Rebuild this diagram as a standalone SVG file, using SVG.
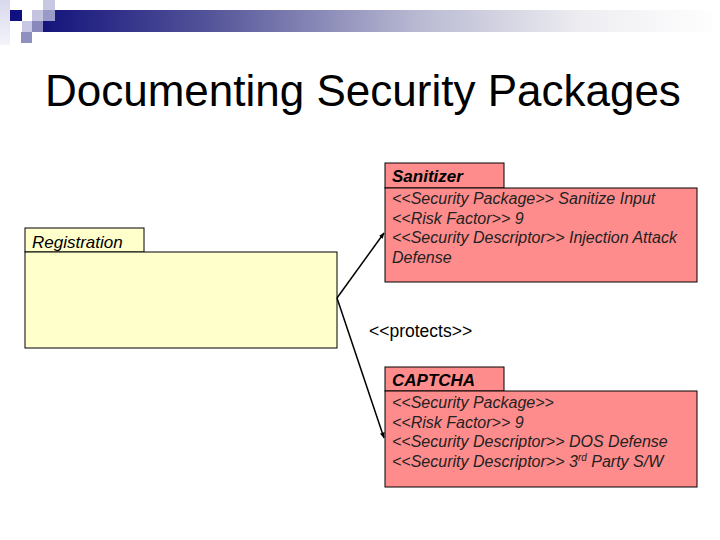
<svg xmlns="http://www.w3.org/2000/svg" width="720" height="540" viewBox="0 0 720 540">
  <defs>
    <linearGradient id="bar" x1="0" y1="0" x2="1" y2="0">
      <stop offset="0" stop-color="#14147c"/>
      <stop offset="0.25" stop-color="#55559a"/>
      <stop offset="0.55" stop-color="#b8b8d2"/>
      <stop offset="0.8" stop-color="#eeeef2"/>
      <stop offset="1" stop-color="#ffffff"/>
    </linearGradient>
    <linearGradient id="strip" x1="0" y1="0" x2="0" y2="1">
      <stop offset="0" stop-color="#d8d8ee"/>
      <stop offset="1" stop-color="#f4f4fa"/>
    </linearGradient>
    <marker id="arr" viewBox="0 0 10 10" refX="9" refY="5" markerWidth="6" markerHeight="6" orient="auto" markerUnits="userSpaceOnUse">
      <path d="M0,1 L10,5 L0,9 z" fill="#000"/>
    </marker>
    <style>
      .pkg { stroke:#000; stroke-width:1; }
      .yellow { fill:#ffffcc; }
      .pink { fill:#ff8c8c; }
      .lbl { font-family:"Liberation Sans", Arial, sans-serif; font-size:17px; font-style:italic; fill:#000; }
      .lblb { font-weight:bold; }
      .body { font-family:"Liberation Sans", Arial, sans-serif; font-size:16px; font-style:italic; fill:#222; }
      .conn { stroke:#000; stroke-width:1.5; fill:none; }
    </style>
  </defs>

  <g id="decor">
    <rect x="0" y="0" width="10" height="45" fill="url(#strip)"/>
    <rect x="43" y="10" width="677" height="22" fill="url(#bar)"/>
    <rect x="10" y="10" width="12" height="11" fill="#101080"/>
    <rect x="43" y="0" width="12" height="10" fill="#c8c8e2"/>
    <rect x="32" y="10" width="11" height="11" fill="#c4c4e0"/>
    <rect x="43" y="10" width="12" height="11" fill="#9a9ac8"/>
    <rect x="22" y="21" width="10" height="11" fill="#c8c8e4"/>
    <rect x="32" y="21" width="11" height="11" fill="#8888bc"/>
    <rect x="21" y="32" width="11" height="11" fill="#9090c0"/>
  </g>

  <text x="45" y="106" font-family="Liberation Sans, Arial, sans-serif" font-size="44" fill="#000">Documenting Security Packages</text>

  <g id="registration">
    <rect class="pkg yellow" x="25" y="228" width="119" height="24"/>
    <rect class="pkg yellow" x="25" y="252" width="312" height="96"/>
    <text class="lbl" x="32" y="248">Registration</text>
  </g>

  <g id="sanitizer">
    <rect class="pkg pink" x="385" y="163" width="119" height="25"/>
    <rect class="pkg pink" x="385" y="188" width="312" height="94"/>
    <text class="lbl lblb" x="392" y="182">Sanitizer</text>
    <text class="body" x="392" y="204">&lt;&lt;Security Package&gt;&gt; Sanitize Input</text>
    <text class="body" x="392" y="223.5">&lt;&lt;Risk Factor&gt;&gt; 9</text>
    <text class="body" x="392" y="243">&lt;&lt;Security Descriptor&gt;&gt; Injection Attack</text>
    <text class="body" x="392" y="262.5">Defense</text>
  </g>

  <g id="captcha">
    <rect class="pkg pink" x="385" y="367" width="119" height="24"/>
    <rect class="pkg pink" x="385" y="391" width="312" height="96"/>
    <text class="lbl lblb" x="392" y="386">CAPTCHA</text>
    <text class="body" x="392" y="408">&lt;&lt;Security Package&gt;&gt;</text>
    <text class="body" x="392" y="427.5">&lt;&lt;Risk Factor&gt;&gt; 9</text>
    <text class="body" x="392" y="447">&lt;&lt;Security Descriptor&gt;&gt; DOS Defense</text>
    <text class="body" x="392" y="466.5">&lt;&lt;Security Descriptor&gt;&gt; 3<tspan font-size="10" dy="-6">rd</tspan><tspan dy="6"> Party S/W</tspan></text>
  </g>

  <g id="connectors">
    <line class="conn" x1="337" y1="298" x2="384" y2="233" marker-end="url(#arr)"/>
    <line class="conn" x1="337" y1="298" x2="384" y2="438" marker-end="url(#arr)"/>
    <text x="369" y="337" font-family="Liberation Sans, Arial, sans-serif" font-size="17.5" fill="#000">&lt;&lt;protects&gt;&gt;</text>
  </g>
</svg>
